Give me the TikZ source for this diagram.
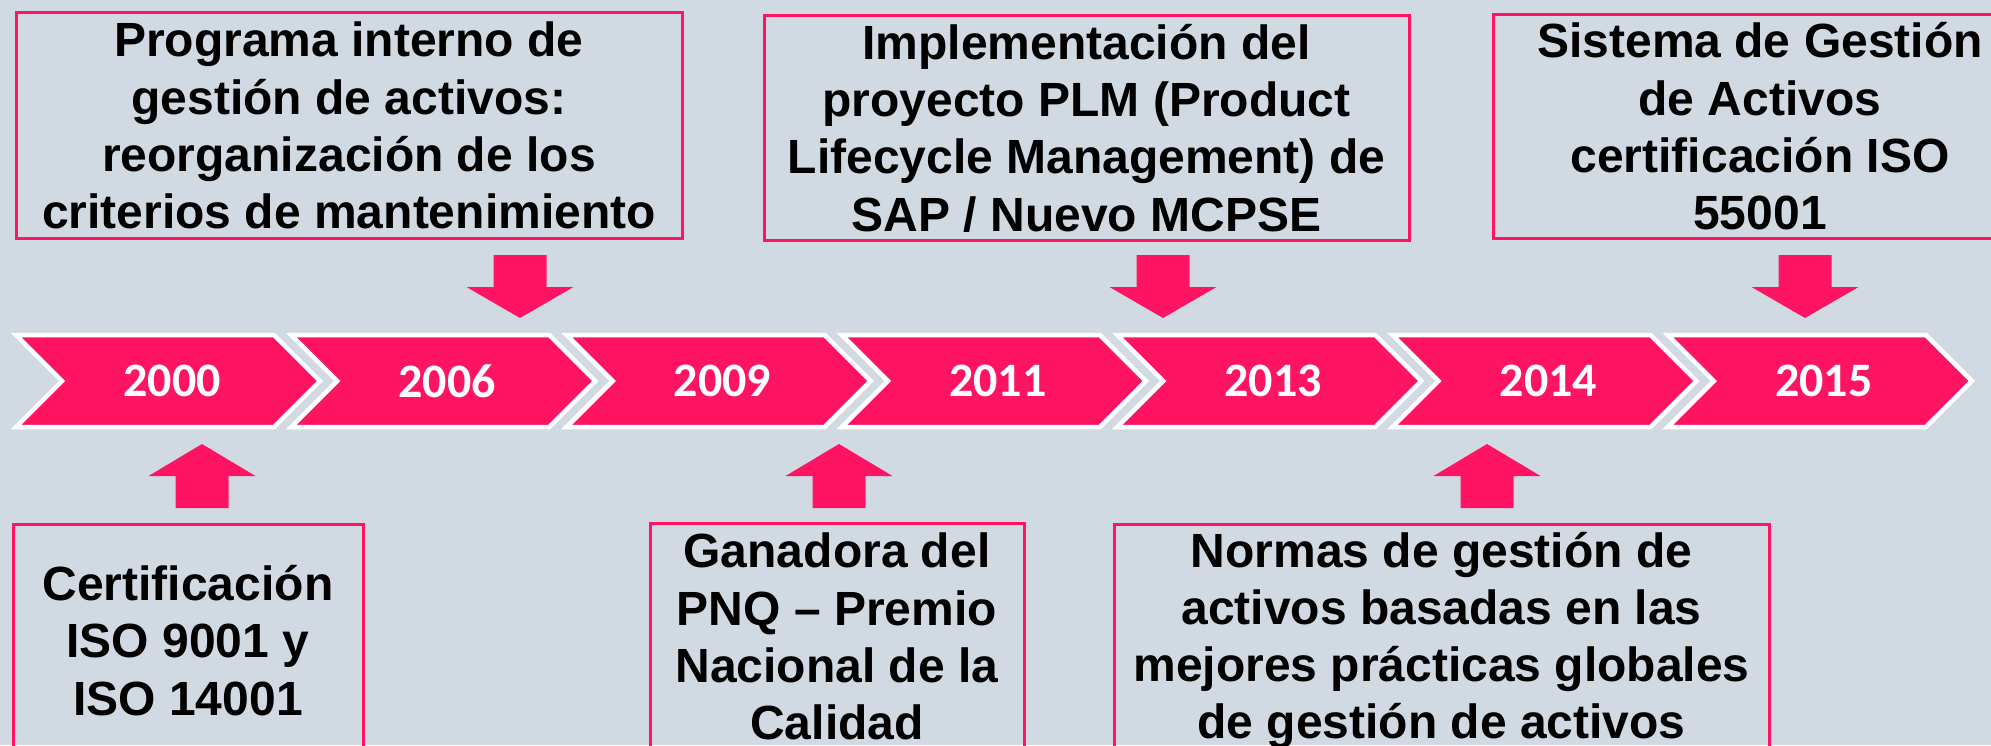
\documentclass[tikz,border=0pt]{standalone}
\usepackage{fontspec}
\setmainfont{Liberation Sans}
\newfontfamily\yearfont{Carlito}
\usepackage{xcolor}
\usetikzlibrary{positioning}
\definecolor{pinkc}{HTML}{FF1464}
\definecolor{bgc}{HTML}{D1DAE2}

\begin{document}
\begin{tikzpicture}[x=1pt, y=-1pt,
  evbox/.style={draw=pinkc, line width=3pt, align=center, inner sep=0pt,
                font=\fontsize{48}{57.3}\selectfont\bfseries},
  chev/.style={fill=pinkc, draw=white, line width=4.5pt, line join=miter},
  year/.style={text=white, font=\fontsize{48}{57}\selectfont\yearfont\bfseries},
  downarr/.pic={\fill[pinkc] (-26.5,0) -- (26.5,0) -- (26.5,32) -- (53.5,32) -- (0,63) -- (-53.5,32) -- (-26.5,32) -- cycle;},
  uparr/.pic={\fill[pinkc] (-26.5,0) -- (26.5,0) -- (26.5,-32) -- (53.5,-32) -- (0,-64) -- (-53.5,-32) -- (-26.5,-32) -- cycle;}
]
\useasboundingbox (0,0) rectangle (1991,745);
\clip (0,0) rectangle (1991,745);
\fill[bgc] (0,0) rectangle (1991,745);

% Timeline
\foreach \yr [count=\i] in {2000,2006,2009,2011,2013,2014,2015}{
  \pgfmathsetmacro{\lx}{16+275.3*(\i-1)}
  \draw[chev] (\lx,335) -- ++(258,0) -- ++(46,46) -- ++(-46,46) -- ++(-258,0) -- ++(46,-46) -- cycle;
  \node[year] (y\yr) at (\lx+156,381) {\yr};
}

% Events above
\node[evbox, minimum width=666, minimum height=226, anchor=north] (ev2006) at (349,11)
  {Programa interno de\\gestión de activos:\\reorganización de los\\criterios de mantenimiento};
\node[evbox, minimum width=645, minimum height=225, anchor=north] (ev2013) at (1086.5,14)
  {Implementación del\\proyecto PLM (Product\\Lifecycle Management) de\\SAP / Nuevo MCPSE};
\node[evbox, minimum width=534, minimum height=224, anchor=north] (ev2015) at (1760,13)
  {Sistema de Gestión\\de Activos\\certificación ISO\\55001};

% Events below
\node[evbox, minimum width=350, minimum height=232, anchor=north] (ev2000) at (188,523)
  {Certificación\\ISO 9001 y\\ISO 14001};
\node[evbox, minimum width=374, minimum height=226, anchor=north] (ev2009) at (837,522)
  {Ganadora del\\PNQ -- Premio\\Nacional de la\\Calidad};
\node[evbox, minimum width=655, minimum height=232, anchor=north] (ev2014) at (1441.5,523)
  {Normas de gestión de\\activos basadas en las\\mejores prácticas globales\\de gestión de activos};

% Block arrows
\pic (a2006) at (520,255) {downarr};
\pic (a2013) at (1163,255) {downarr};
\pic (a2015) at (1805,255) {downarr};
\pic (a2000) at (202,508) {uparr};
\pic (a2009) at (839,508) {uparr};
\pic (a2014) at (1487,508) {uparr};

\end{tikzpicture}
\end{document}
